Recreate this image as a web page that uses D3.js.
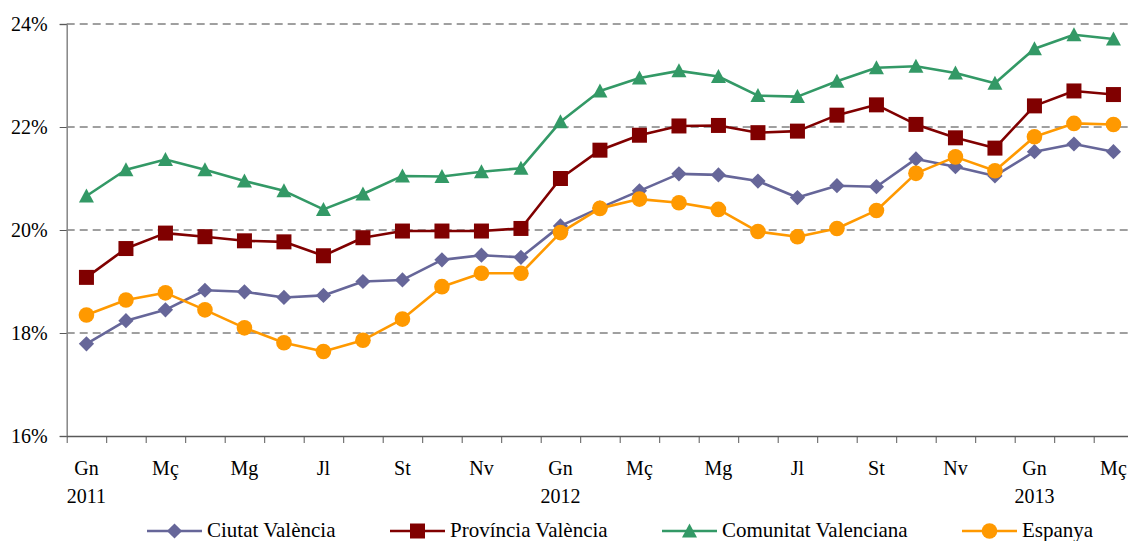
<!DOCTYPE html>
<html>
<head>
<meta charset="utf-8">
<script src="https://cdn.jsdelivr.net/npm/d3@7"></script>
<style>
  body { margin: 0; background: #fff; }
  svg { display: block; }
</style>
</head>
<body>
<svg id="chart"></svg>
<script>
var months = ['Gn','F','Mç','A','Mg','Jn','Jl','Ag','St','Oc','Nv','Ds',
              'Gn','F','Mç','A','Mg','Jn','Jl','Ag','St','Oc','Nv','Ds',
              'Gn','F','Mç'],
    years = ['2011','','','','','','','','','','','',
             '2012','','','','','','','','','','','',
             '2013','',''],
    yTicks = [16, 18, 20, 22, 24];

var ciutat = [17.79,18.24,18.45,18.83,18.80,18.69,18.73,19.00,19.03,19.42,19.51,19.47,
              20.08,20.43,20.76,21.09,21.07,20.95,20.63,20.86,20.84,21.38,21.23,21.05,
              21.52,21.67,21.52],
    provincia = [19.08,19.64,19.94,19.87,19.79,19.77,19.50,19.85,19.98,19.98,19.98,20.03,
                 21.00,21.55,21.84,22.02,22.03,21.89,21.92,22.23,22.43,22.05,21.79,21.59,
                 22.41,22.70,22.63],
    comunitat = [20.66,21.17,21.37,21.17,20.95,20.76,20.40,20.70,21.05,21.04,21.13,21.20,
                 22.10,22.70,22.95,23.09,22.98,22.61,22.59,22.89,23.15,23.18,23.05,22.85,
                 23.52,23.79,23.71],
    espanya = [18.35,18.64,18.78,18.45,18.10,17.81,17.64,17.86,18.27,18.90,19.16,19.16,
               19.95,20.42,20.60,20.53,20.40,19.97,19.87,20.03,20.38,21.10,21.42,21.15,
               21.81,22.07,22.05];

var series = [
  {name:'Ciutat València',        values:ciutat,    color:'#666699', shape:'diamond',  legendX:147},
  {name:'Província València',     values:provincia, color:'#800000', shape:'square',   legendX:390},
  {name:'Comunitat Valenciana',   values:comunitat, color:'#339966', shape:'triangle', legendX:662},
  {name:'Espanya',                values:espanya,   color:'#FF9900', shape:'circle',   legendX:962}
];

var FONT = "'Liberation Serif', 'Times New Roman', Times, serif";

var width = 1128, height = 541,
    margin = {top: 24, left: 66.7, bottom: 105},
    plotRight = 1133.2,
    innerHeight = height - margin.top - margin.bottom;

var svg = d3.select("#chart")
    .attr("width", width)
    .attr("height", height)
    .attr("font-family", FONT)
    .attr("font-size", 20);

var xScale = d3.scaleBand()
      .domain(d3.range(months.length))
      .range([margin.left, plotRight])
      .padding(0),
    yScale = d3.scaleLinear()
      .domain([16, 24])
      .range([margin.top + innerHeight, margin.top]);

function cx(i) { return xScale(i) + xScale.bandwidth() / 2; }

// gridlines
svg.append("g")
  .selectAll("line")
  .data(yTicks.filter(function(d){ return d > 16; }))
  .enter().append("line")
    .attr("x1", margin.left)
    .attr("x2", plotRight)
    .attr("y1", function(d){ return yScale(d); })
    .attr("y2", function(d){ return yScale(d); })
    .attr("stroke", "#404040")
    .attr("stroke-width", 1)
    .attr("stroke-dasharray", "8,5");

// y axis
var yAxis = d3.axisLeft(yScale)
    .tickValues(yTicks)
    .tickSize(7)
    .tickPadding(12)
    .tickFormat(function(d){ return d + "%"; });

var gy = svg.append("g")
    .attr("transform", "translate(" + margin.left + ",0)")
    .call(yAxis)
    .attr("font-family", FONT)
    .attr("font-size", 20);
gy.select(".domain").attr("stroke", "#868686").attr("stroke-width", 1.5);
gy.selectAll(".tick line").attr("stroke", "#595959");
gy.selectAll(".tick text")
    .attr("fill", "#000")
    .attr("dy", "0.33em");

// x axis
var xAxis = d3.axisBottom(d3.scaleLinear().domain([0, months.length]).range([margin.left, plotRight]))
    .tickValues(d3.range(months.length + 1))
    .tickSize(7)
    .tickFormat("")
    .tickSizeOuter(0);

var gx = svg.append("g")
    .attr("transform", "translate(0," + (margin.top + innerHeight) + ")")
    .call(xAxis);
gx.select(".domain").attr("stroke", "#595959").attr("stroke-width", 1.5);
gx.selectAll(".tick line").attr("stroke", "#595959");

svg.append("g")
  .selectAll("text")
  .data(months.map(function(m, i){ return {m:m, i:i}; }).filter(function(d){ return d.i % 2 == 0; }))
  .enter().append("text")
    .attr("x", function(d){ return cx(d.i); })
    .attr("y", 475)
    .attr("text-anchor", "middle")
    .text(function(d){ return d.m; });

svg.append("g")
  .selectAll("text")
  .data(years.map(function(y, i){ return {y:y, i:i}; }).filter(function(d){ return d.y; }))
  .enter().append("text")
    .attr("x", function(d){ return cx(d.i); })
    .attr("y", 503)
    .attr("text-anchor", "middle")
    .text(function(d){ return d.y; });

// markers
function marker(sel, shape, color) {
  if (shape == 'diamond') {
    sel.append("path").attr("d", d3.symbol().type(d3.symbolSquare).size(116)())
      .attr("transform", "rotate(45)")
      .attr("fill", color);
  } else if (shape == 'square') {
    sel.append("path").attr("d", d3.symbol().type(d3.symbolSquare).size(225)())
      .attr("fill", color);
  } else if (shape == 'triangle') {
    sel.append("path").attr("d", "M0,-7.5L7.5,6.5L-7.5,6.5Z")
      .attr("fill", color);
  } else {
    sel.append("circle").attr("r", 7.8).attr("fill", color);
  }
}

var line = d3.line()
    .x(function(d, i){ return cx(i); })
    .y(function(d){ return yScale(d); });

series.forEach(function(s){
  var g = svg.append("g");
  g.append("path")
    .datum(s.values)
    .attr("d", line)
    .attr("fill", "none")
    .attr("stroke", s.color)
    .attr("stroke-width", 2.6)
    .attr("stroke-linejoin", "round");

  var pts = g.selectAll(".pt")
    .data(s.values)
    .enter().append("g")
      .attr("class", "pt")
      .attr("transform", function(d, i){ return "translate(" + cx(i) + "," + yScale(d) + ")"; });
  marker(pts, s.shape, s.color);
});

// legend
var legend = svg.append("g").attr("font-size", 21);
series.forEach(function(s){
  var lg = legend.append("g").attr("transform", "translate(" + s.legendX + ",531)");
  lg.append("line")
    .attr("x1", 0).attr("x2", 55)
    .attr("stroke", s.color).attr("stroke-width", 2.6);
  var m = lg.append("g").attr("transform", "translate(27.5,0)");
  marker(m, s.shape, s.color);
  lg.append("text")
    .attr("x", 60)
    .attr("y", 6)
    .text(s.name);
});
</script>
</body>
</html>
